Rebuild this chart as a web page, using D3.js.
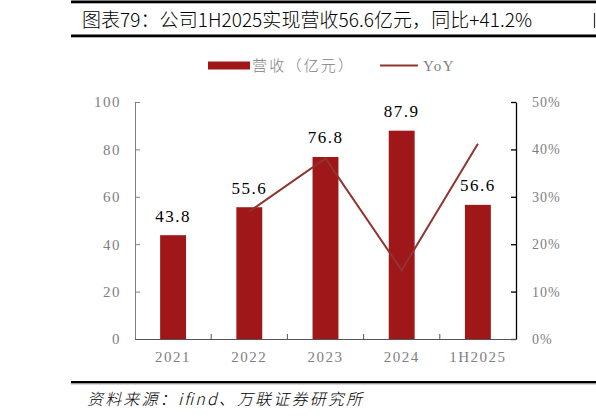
<!DOCTYPE html>
<html>
<head>
<meta charset="utf-8">
<script src="https://cdn.jsdelivr.net/npm/d3@7"></script>
<style>
    body { margin: 0; background: #fff; }
    svg { display: block; }
    .num { font-family: "Liberation Serif", "DejaVu Serif", serif; }
    .cjk { font-family: "Noto Sans CJK SC", sans-serif; font-weight: 300; }
</style>
</head>
<body>
<div id="chart"></div>
<script>
    // chart data
    var categories = ["2021", "2022", "2023", "2024", "1H2025"];
    var revenue = [43.8, 55.6, 76.8, 87.9, 56.6];      // 营收（亿元）
    var yoy = [null, 26.9, 38.1, 14.5, 41.2];           // YoY %
    var leftTicks = [0, 20, 40, 60, 80, 100];
    var rightTicks = [0, 10, 20, 30, 40, 50];

    var title = "图表79：公司1H2025实现营收56.6亿元，同比+41.2%";
    var source = "资料来源：ifind、万联证券研究所";

    var W = 596, H = 419;
    var barColor = "#a0171a";
    var lineColor = "#8e3532";
    var grey = "#808080";

    var svg = d3.select("#chart").append("svg")
        .attr("width", W)
        .attr("height", H);

    // frame rules (top, under title, above source)
    function rule(y) {
        svg.append("rect").attr("x", 71).attr("y", y).attr("width", W - 71).attr("height", 2.5).attr("fill", "#000");
        svg.append("rect").attr("x", 71).attr("y", y + 2.5).attr("width", W - 71).attr("height", 1).attr("fill", "#b0b0b0");
    }
    rule(0.5);
    rule(34.5);
    rule(381);

    svg.append("text")
        .attr("class", "cjk")
        .attr("x", 82)
        .attr("y", 27)
        .attr("font-size", 19)
        .attr("textLength", 450)
        .attr("lengthAdjust", "spacing")
        .attr("fill", "#000")
        .text(title);

    svg.append("line")
        .attr("x1", 594.5).attr("x2", 594.5)
        .attr("y1", 13).attr("y2", 28)
        .attr("stroke", "#333").attr("stroke-width", 1.2);

    svg.append("text")
        .attr("class", "cjk")
        .attr("x", 87)
        .attr("y", 405)
        .attr("font-size", 16)
        .attr("font-style", "italic")
        .attr("textLength", 275)
        .attr("lengthAdjust", "spacing")
        .attr("fill", "#000")
        .text(source);

    // legend
    var legend = svg.append("g");
    legend.append("rect")
        .attr("x", 208).attr("y", 61.5)
        .attr("width", 42).attr("height", 8)
        .attr("fill", barColor);
    legend.append("text")
        .attr("class", "cjk")
        .attr("x", 252).attr("y", 71)
        .attr("font-size", 15)
        .attr("textLength", 101)
        .attr("lengthAdjust", "spacing")
        .attr("fill", grey)
        .text("营收（亿元）");
    legend.append("line")
        .attr("x1", 380).attr("x2", 418)
        .attr("y1", 65.5).attr("y2", 65.5)
        .attr("stroke", lineColor).attr("stroke-width", 2);
    legend.append("text")
        .attr("class", "num")
        .attr("x", 423).attr("y", 71)
        .attr("font-size", 15)
        .attr("letter-spacing", 1.5)
        .attr("fill", grey)
        .text("YoY");

    // scales
    var plot = {left: 135, right: 516, top: 102, bottom: 339};

    var x = d3.scaleBand()
        .domain(categories)
        .range([plot.left, plot.right]);

    var yL = d3.scaleLinear()
        .domain([0, 100])
        .range([plot.bottom, plot.top]);

    var yR = d3.scaleLinear()
        .domain([0, 50])
        .range([plot.bottom, plot.top]);

    var barW = x.bandwidth() * 0.34;
    function cx(d) { return x(d) + x.bandwidth() / 2; }

    // bars
    svg.selectAll(".bar")
        .data(categories)
        .enter().append("rect")
        .attr("class", "bar")
        .attr("x", function (d) { return cx(d) - barW / 2; })
        .attr("y", function (d, i) { return yL(revenue[i]); })
        .attr("width", barW)
        .attr("height", function (d, i) { return plot.bottom - yL(revenue[i]); })
        .attr("fill", barColor);

    // left axis
    var gL = svg.append("g")
        .attr("transform", "translate(" + plot.left + ",0)")
        .call(d3.axisLeft(yL).tickValues(leftTicks).tickSizeInner(-5).tickSizeOuter(0).tickPadding(14));
    gL.select(".domain").attr("stroke", grey);
    gL.selectAll(".tick line").attr("stroke", grey);
    gL.selectAll("text")
        .attr("class", "num")
        .attr("font-size", 15)
        .attr("letter-spacing", 1.5)
        .attr("fill", grey);

    // right axis
    var gR = svg.append("g")
        .attr("transform", "translate(" + plot.right + ",0)")
        .call(d3.axisRight(yR).tickValues(rightTicks).tickSizeInner(-5).tickSizeOuter(0).tickPadding(16)
            .tickFormat(function (d) { return d + "%"; }));
    gR.select(".domain").attr("stroke", "#000").attr("stroke-width", 1.3);
    gR.selectAll(".tick line").attr("stroke", "#000").attr("stroke-width", 1.3);
    gR.selectAll("text")
        .attr("class", "num")
        .attr("font-size", 14)
        .attr("letter-spacing", 1)
        .attr("fill", grey);

    // x axis: labels centered, ticks on band boundaries
    var gX = svg.append("g")
        .attr("transform", "translate(0," + plot.bottom + ")")
        .call(d3.axisBottom(x).tickSize(0).tickPadding(12));
    gX.select(".domain").attr("stroke", "#555");
    gX.selectAll("text")
        .attr("class", "num")
        .attr("font-size", 15)
        .attr("letter-spacing", 1.5)
        .attr("fill", grey);
    gX.selectAll(".bound")
        .data(categories.slice(1))
        .enter().append("line")
        .attr("class", "bound")
        .attr("x1", function (d) { return x(d); })
        .attr("x2", function (d) { return x(d); })
        .attr("y1", 0).attr("y2", -5)
        .attr("stroke", "#555");

    // YoY line
    var pts = categories.map(function (c, i) { return {c: c, v: yoy[i]}; })
        .filter(function (d) { return d.v !== null; });
    svg.append("path")
        .datum(pts)
        .attr("fill", "none")
        .attr("stroke", lineColor)
        .attr("stroke-width", 2)
        .attr("d", d3.line()
            .x(function (d) { return cx(d.c); })
            .y(function (d) { return yR(d.v); }));

    // value labels
    svg.selectAll(".val")
        .data(categories)
        .enter().append("text")
        .attr("class", "num val")
        .attr("x", function (d) { return cx(d); })
        .attr("y", function (d, i) { return yL(revenue[i]) - 13.5; })
        .attr("text-anchor", "middle")
        .attr("font-size", 17)
        .attr("letter-spacing", 1.5)
        .attr("fill", "#000")
        .text(function (d, i) { return revenue[i].toFixed(1); });
</script>
</body>
</html>
